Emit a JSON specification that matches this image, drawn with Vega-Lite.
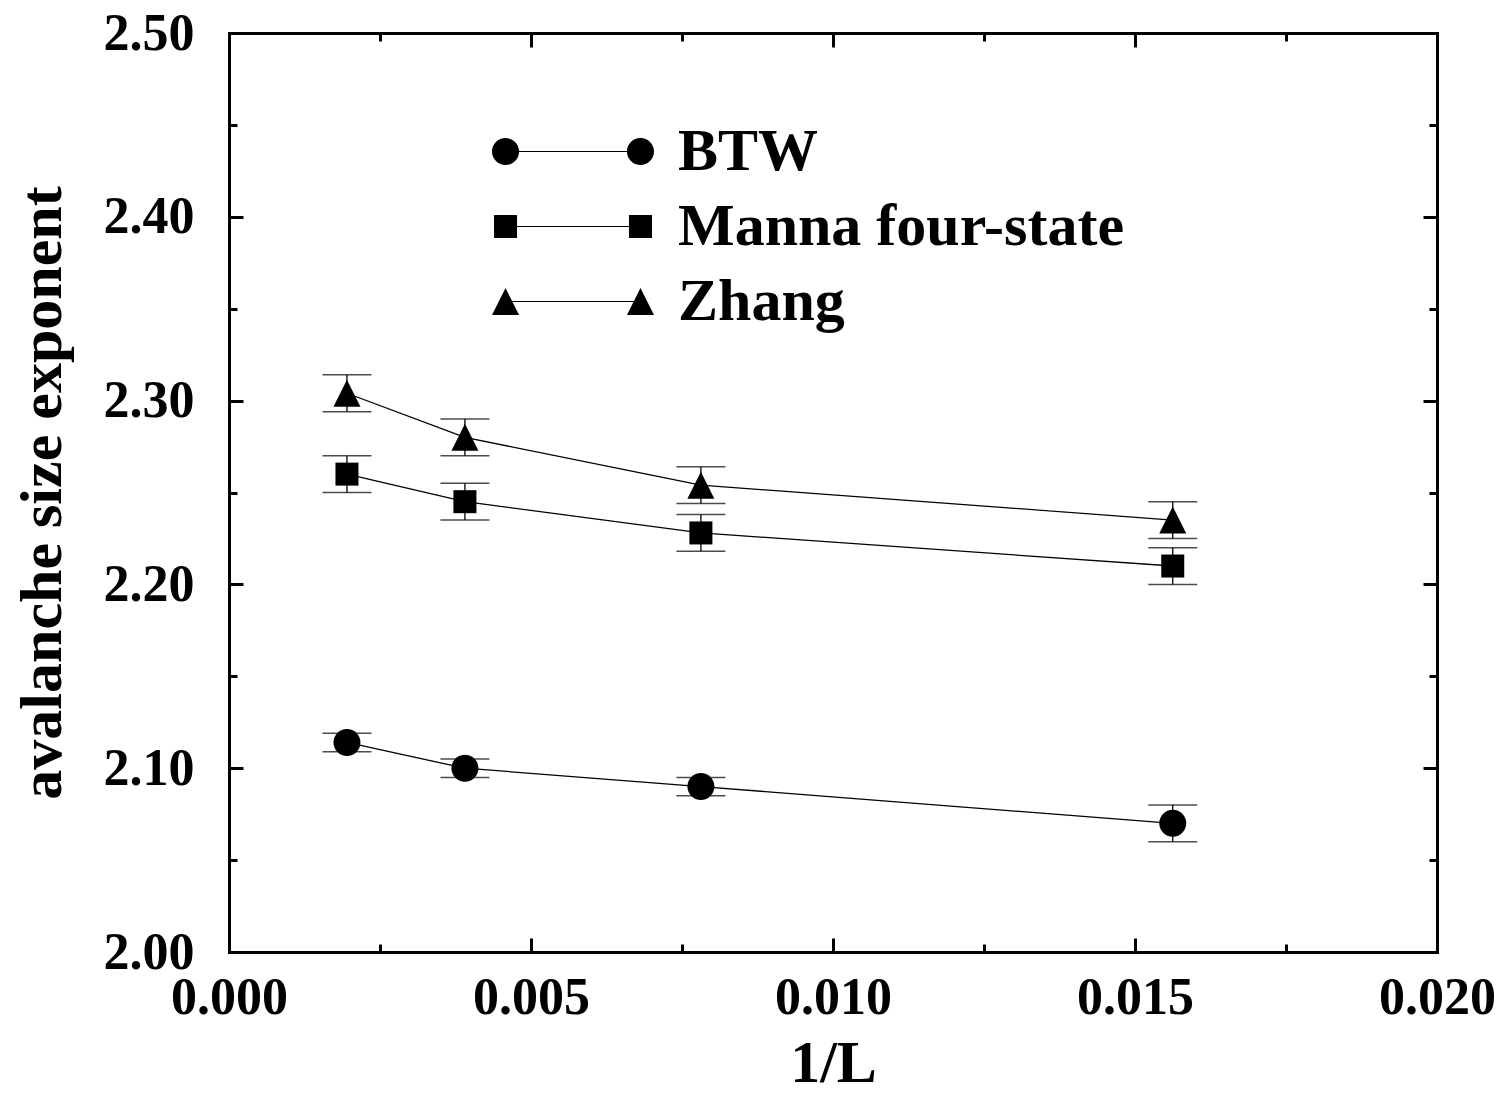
{
  "$schema": "https://vega.github.io/schema/vega-lite/v6.json",
  "width": 1208,
  "height": 919,
  "autosize": {"type": "none"},
  "padding": {"left": 229, "top": 33, "right": 66, "bottom": 141},
  "background": "white",
  "data": {
    "values": [
      {"model": "BTW", "invL": 0.001953, "exp": 2.114, "lo": 2.109, "hi": 2.119},
      {"model": "BTW", "invL": 0.003906, "exp": 2.100, "lo": 2.095, "hi": 2.105},
      {"model": "BTW", "invL": 0.007813, "exp": 2.090, "lo": 2.085, "hi": 2.095},
      {"model": "BTW", "invL": 0.015625, "exp": 2.070, "lo": 2.060, "hi": 2.080},
      {"model": "Manna four-state", "invL": 0.001953, "exp": 2.260, "lo": 2.250, "hi": 2.270},
      {"model": "Manna four-state", "invL": 0.003906, "exp": 2.245, "lo": 2.235, "hi": 2.255},
      {"model": "Manna four-state", "invL": 0.007813, "exp": 2.228, "lo": 2.218, "hi": 2.238},
      {"model": "Manna four-state", "invL": 0.015625, "exp": 2.210, "lo": 2.200, "hi": 2.220},
      {"model": "Zhang", "invL": 0.001953, "exp": 2.304, "lo": 2.294, "hi": 2.314},
      {"model": "Zhang", "invL": 0.003906, "exp": 2.280, "lo": 2.270, "hi": 2.290},
      {"model": "Zhang", "invL": 0.007813, "exp": 2.254, "lo": 2.244, "hi": 2.264},
      {"model": "Zhang", "invL": 0.015625, "exp": 2.235, "lo": 2.225, "hi": 2.245}
    ]
  },
  "resolve": {"axis": {"x": "independent", "y": "independent"}, "scale": {"shape": "independent"}},
  "layer": [
    {
      "mark": {"type": "rule", "color": "black", "strokeWidth": 1.3},
      "encoding": {
        "x": {
          "field": "invL", "type": "quantitative",
          "scale": {"domain": [0, 0.02], "nice": false, "zero": false},
          "axis": {
            "orient": "bottom", "values": [0, 0.005, 0.01, 0.015, 0.02], "format": ".3f",
            "title": "1/L", "tickSize": -14, "tickWidth": 3, "domainWidth": 3,
            "labelPadding": 34, "titlePadding": 11, "titleFontSize": 60, "labelFlush": false, "labelOverlap": false
          }
        },
        "y": {
          "field": "lo", "type": "quantitative",
          "scale": {"domain": [2.0, 2.5], "nice": false, "zero": false},
          "axis": {
            "orient": "left", "values": [2.0, 2.1, 2.2, 2.3, 2.4, 2.5], "format": ".2f",
            "title": "avalanche size exponent", "tickSize": -14, "tickWidth": 3, "domainWidth": 3,
            "labelPadding": 49, "titlePadding": 30, "titleFontSize": 60, "labelFlush": false, "labelOverlap": false
          }
        },
        "y2": {"field": "hi"}
      }
    },
    {
      "mark": {"type": "tick", "orient": "horizontal", "color": "black", "size": 49, "thickness": 1.5},
      "encoding": {
        "x": {
          "field": "invL", "type": "quantitative",
          "scale": {"domain": [0, 0.02], "nice": false, "zero": false},
          "axis": {"orient": "top", "values": [0, 0.005, 0.01, 0.015, 0.02], "labels": false, "title": null,
                   "tickSize": -14, "tickWidth": 3, "domainWidth": 3}
        },
        "y": {
          "field": "hi", "type": "quantitative",
          "scale": {"domain": [2.0, 2.5], "nice": false, "zero": false},
          "axis": {"orient": "right", "values": [2.0, 2.1, 2.2, 2.3, 2.4, 2.5], "labels": false, "title": null,
                   "tickSize": -14, "tickWidth": 3, "domainWidth": 3}
        }
      }
    },
    {
      "mark": {"type": "tick", "orient": "horizontal", "color": "black", "size": 49, "thickness": 1.5},
      "encoding": {
        "x": {
          "field": "invL", "type": "quantitative",
          "scale": {"domain": [0, 0.02], "nice": false, "zero": false},
          "axis": {"orient": "bottom", "values": [0.0025, 0.0075, 0.0125, 0.0175], "labels": false, "title": null,
                   "tickSize": -8, "tickWidth": 3, "domain": false}
        },
        "y": {
          "field": "lo", "type": "quantitative",
          "scale": {"domain": [2.0, 2.5], "nice": false, "zero": false},
          "axis": {"orient": "left", "values": [2.05, 2.15, 2.25, 2.35, 2.45], "labels": false, "title": null,
                   "tickSize": -8, "tickWidth": 3, "domain": false}
        }
      }
    },
    {
      "mark": {"type": "line", "color": "black", "strokeWidth": 1.3},
      "encoding": {
        "x": {
          "field": "invL", "type": "quantitative",
          "scale": {"domain": [0, 0.02], "nice": false, "zero": false},
          "axis": {"orient": "top", "values": [0.0025, 0.0075, 0.0125, 0.0175], "labels": false, "title": null,
                   "tickSize": -8, "tickWidth": 3, "domain": false}
        },
        "y": {
          "field": "exp", "type": "quantitative",
          "scale": {"domain": [2.0, 2.5], "nice": false, "zero": false},
          "axis": {"orient": "right", "values": [2.05, 2.15, 2.25, 2.35, 2.45], "labels": false, "title": null,
                   "tickSize": -8, "tickWidth": 3, "domain": false}
        },
        "detail": {"field": "model", "type": "nominal"}
      }
    },
    {
      "mark": {"type": "point", "filled": true, "color": "black", "opacity": 1, "size": 729, "strokeWidth": 0},
      "encoding": {
        "x": {"field": "invL", "type": "quantitative", "scale": {"domain": [0, 0.02], "nice": false, "zero": false}, "axis": null},
        "y": {"field": "exp", "type": "quantitative", "scale": {"domain": [2.0, 2.5], "nice": false, "zero": false}, "axis": null},
        "shape": {
          "field": "model", "type": "nominal",
          "scale": {
            "domain": ["BTW", "Manna four-state", "Zhang"],
            "range": [
              "M-1,0A1,1 0 1,0 1,0A1,1 0 1,0 -1,0Z",
              "M-0.852,-0.852H0.852V0.852H-0.852Z",
              "M0,-1L1,1L-1,1Z"
            ]
          },
          "legend": null
        }
      }
    },
    {
      "mark": {"type": "point", "filled": true, "color": "black", "opacity": 0, "size": 20, "strokeWidth": 0},
      "encoding": {
        "x": {"field": "invL", "type": "quantitative", "scale": {"domain": [0, 0.02], "nice": false, "zero": false}, "axis": null},
        "y": {"field": "exp", "type": "quantitative", "scale": {"domain": [2.0, 2.5], "nice": false, "zero": false}, "axis": null},
        "shape": {
          "field": "model", "type": "nominal",
          "scale": {
            "domain": ["BTW", "Manna four-state", "Zhang"],
            "range": [
              "M-1,0A0.167,0.167 0 1,0 -0.666,0A0.167,0.167 0 1,0 -1,0Z M0.666,0A0.167,0.167 0 1,0 1,0A0.167,0.167 0 1,0 0.666,0Z M-0.667,-0.007H0.667V0.007H-0.667Z",
              "M-0.975,-0.142H-0.691V0.142H-0.975Z M0.691,-0.142H0.975V0.142H0.691Z M-0.691,-0.007H0.691V0.007H-0.691Z",
              "M-0.833,-0.167L-0.666,0.167L-1,0.167Z M0.833,-0.167L1,0.167L0.666,0.167Z M-0.75,-0.007H0.75V0.007H-0.75Z"
            ]
          },
          "legend": {
            "orient": "none", "legendX": 263, "legendY": 82, "padding": 0, "title": null,
            "direction": "vertical", "columns": 1,
            "labelFont": "Liberation Serif", "labelFontWeight": "bold", "labelFontSize": 60, "labelColor": "black",
            "labelOffset": 24, "labelLimit": 1000, "clipHeight": 73, "rowPadding": 2,
            "symbolSize": 26244, "symbolStrokeWidth": 0, "symbolOpacity": 1, "symbolFillColor": "black"
          }
        }
      }
    }
  ],
  "config": {
    "view": {"stroke": null},
    "axis": {
      "grid": false,
      "labelFont": "Liberation Serif", "labelFontWeight": "bold", "labelFontSize": 52, "labelColor": "black",
      "titleFont": "Liberation Serif", "titleFontWeight": "bold", "titleColor": "black",
      "tickColor": "black", "domainColor": "black", "tickCap": "butt", "domainCap": "square"
    }
  }
}
